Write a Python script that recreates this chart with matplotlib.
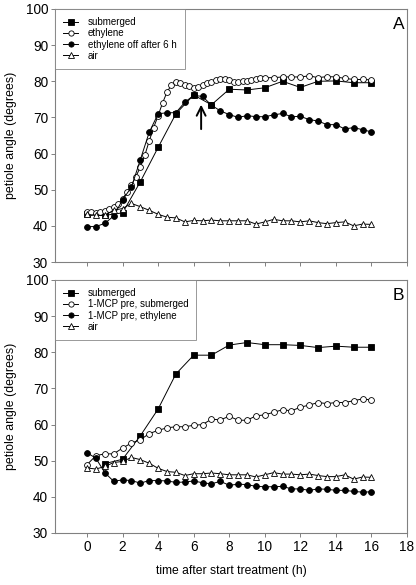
import numpy as np
import matplotlib
matplotlib.use("Agg")
import matplotlib.pyplot as plt

plt.rcParams['font.family'] = ['Liberation Sans', 'DejaVu Sans']

# ---------------- Panel A data ----------------
a_sub_x = [0, 1, 2, 3, 4, 5, 6, 7, 8, 9, 10, 11, 12, 13, 14, 15, 16]
a_sub_y = [43.4, 42.9, 43.6, 52.2, 61.7, 71.0, 76.2, 73.5, 77.8, 77.6, 78.2, 80.0, 78.3, 80.0, 80.1, 79.6, 79.6]

a_eth_x = [0, 0.25, 0.5, 0.75, 1.0, 1.25, 1.5, 1.75, 2.0, 2.25, 2.5, 2.75, 3.0, 3.25, 3.5, 3.75,
           4.0, 4.25, 4.5, 4.75, 5.0, 5.25, 5.5, 5.75, 6.0, 6.25, 6.5, 6.75, 7.0, 7.25, 7.5, 7.75,
           8.0, 8.25, 8.5, 8.75, 9.0, 9.25, 9.5, 9.75, 10.0,
           10.5, 11, 11.5, 12, 12.5, 13, 13.5, 14, 14.5, 15, 15.5, 16]
a_eth_y = [43.8, 43.9, 43.6, 43.9, 44.2, 44.6, 45.2, 46.0, 47.5, 49.3, 51.3, 53.6, 56.3, 59.5, 63.5, 67.2,
           70.5, 74.0, 77.0, 79.0, 79.7, 79.5, 79.0, 78.6, 78.1, 78.3, 78.9, 79.5, 79.9, 80.3, 80.6, 80.7,
           80.3, 79.9, 79.8, 80.1, 80.2, 80.3, 80.6, 80.8, 81.0,
           81.0, 81.2, 81.2, 81.2, 81.5, 81.0, 81.3, 81.2, 80.8, 80.5, 80.5, 80.4]

a_off_x = [0, 0.5, 1, 1.5, 2, 2.5, 3, 3.5, 4, 4.5, 5, 5.5, 6, 6.5, 7, 7.5, 8, 8.5, 9, 9.5, 10,
           10.5, 11, 11.5, 12, 12.5, 13, 13.5, 14, 14.5, 15, 15.5, 16]
a_off_y = [39.8, 39.8, 40.7, 42.7, 47.2, 50.7, 58.3, 65.9, 71.0, 71.3, 71.3, 74.2, 76.1, 75.8, 73.4, 71.8,
           70.8, 70.0, 70.5, 70.2, 70.2, 70.7, 71.1, 70.2, 70.3, 69.4, 69.0, 68.0, 68.0, 66.8, 67.2, 66.6, 66.0]

a_air_x = [0, 0.5, 1, 1.5, 2, 2.5, 3, 3.5, 4, 4.5, 5, 5.5, 6, 6.5, 7, 7.5, 8, 8.5, 9, 9.5, 10,
           10.5, 11, 11.5, 12, 12.5, 13, 13.5, 14, 14.5, 15, 15.5, 16]
a_air_y = [43.2, 42.9, 42.9, 44.3, 44.8, 46.2, 45.3, 44.3, 43.2, 42.4, 42.2, 41.1, 41.5, 41.4, 41.6, 41.4,
           41.4, 41.4, 41.4, 40.5, 41.1, 41.8, 41.4, 41.4, 41.1, 41.4, 40.9, 40.6, 40.9, 41.1, 40.0, 40.5, 40.4]

# ---------------- Panel B data ----------------
b_sub_x = [1, 2, 3, 4, 5, 6, 7, 8, 9, 10, 11, 12, 13, 14, 15, 16]
b_sub_y = [49.2, 50.4, 56.9, 64.3, 74.0, 79.2, 79.2, 82.0, 82.7, 82.1, 82.1, 81.9, 81.3, 81.7, 81.4, 81.4]

half_x = [0, 0.5, 1, 1.5, 2, 2.5, 3, 3.5, 4, 4.5, 5, 5.5, 6, 6.5, 7, 7.5, 8, 8.5, 9, 9.5, 10,
          10.5, 11, 11.5, 12, 12.5, 13, 13.5, 14, 14.5, 15, 15.5, 16]
b_mcps_y = [48.9, 51.4, 51.9, 51.9, 53.5, 54.9, 55.8, 57.5, 58.4, 59.1, 59.4, 59.4, 59.8, 60.0, 61.5, 61.3,
            62.3, 61.2, 61.2, 62.4, 62.7, 63.4, 64.1, 63.8, 64.8, 65.4, 66.1, 65.8, 66.1, 66.1, 66.6, 67.1, 66.8]
b_mcpe_y = [52.2, 50.7, 46.7, 44.3, 44.7, 44.5, 43.8, 44.5, 44.5, 44.4, 44.0, 44.1, 44.4, 43.9, 43.6, 44.3,
            43.2, 43.5, 43.4, 42.9, 42.8, 42.8, 42.9, 42.2, 42.2, 41.8, 42.2, 42.1, 41.8, 41.8, 41.5, 41.3, 41.4]
b_air_y = [48.0, 47.7, 48.4, 49.5, 49.8, 50.9, 50.3, 49.3, 47.9, 47.0, 46.8, 45.9, 46.4, 46.4, 46.6, 46.4,
           46.1, 46.1, 46.1, 45.5, 46.1, 46.7, 46.3, 46.3, 46.1, 46.3, 45.9, 45.6, 45.6, 46.1, 44.9, 45.5, 45.4]

labels_a = ["submerged", "ethylene", "ethylene off after 6 h", "air"]
labels_b = ["submerged", "1-MCP pre, submerged", "1-MCP pre, ethylene", "air"]
xticks = list(range(0, 19, 2))
yticks = list(range(30, 101, 10))

fig = plt.figure(figsize=(4.16, 5.85), dpi=100)
axA = fig.add_axes([55/416, 1-262/585, 352/416, 253/585])
axB = fig.add_axes([55/416, 1-533/585, 352/416, 253/585])

ms = 4.2
lw = 0.7
styles = [dict(marker='s', mfc='black', mec='black'),
          dict(marker='o', mfc='white', mec='black'),
          dict(marker='o', mfc='black', mec='black'),
          dict(marker='^', mfc='white', mec='black')]

def draw(ax, series, labels, letter):
    handles = []
    for (x, y), st, lab in zip(series, styles, labels):
        h, = ax.plot(x, y, color='black', lw=lw, ms=ms, mew=0.6, label=lab, **st)
        handles.append(h)
    ax.set_xlim(-1.8, 18)
    ax.set_ylim(30, 100)
    ax.set_xticks(xticks)
    ax.set_yticks(yticks)
    for s in ax.spines.values():
        s.set_color('#808080')
        s.set_linewidth(0.8)
    ax.tick_params(direction='out', length=3, width=0.7, color='#808080', labelsize=9.8, pad=2)
    ax.text(0.993, 0.968, letter, transform=ax.transAxes, ha='right', va='top', fontsize=12.5)
    leg = ax.legend(handles=handles, loc='upper left', bbox_to_anchor=(0, 1), borderaxespad=0,
                    fontsize=7, handlelength=1.5, handletextpad=1.0, labelspacing=0.12,
                    borderpad=0.85, fancybox=False, frameon=True, markerscale=0.9)
    leg.get_frame().set_edgecolor('#808080')
    leg.get_frame().set_linewidth(0.7)
    ax.set_ylabel("petiole angle (degrees)", fontsize=8.9, labelpad=6)

draw(axA, [(a_sub_x, a_sub_y), (a_eth_x, a_eth_y), (a_off_x, a_off_y), (a_air_x, a_air_y)], labels_a, "A")
axA.tick_params(labelbottom=False)
axA.annotate("", xy=(6.42, 74.3), xytext=(6.42, 66.0),
             arrowprops=dict(arrowstyle='->', color='black', lw=1.4, mutation_scale=16))

draw(axB, [(b_sub_x, b_sub_y), (half_x, b_mcps_y), (half_x, b_mcpe_y), (half_x, b_air_y)], labels_b, "B")
axB.set_xlabel("time after start treatment (h)", fontsize=8.7, labelpad=8)

fig.savefig("out.png", dpi=100)
